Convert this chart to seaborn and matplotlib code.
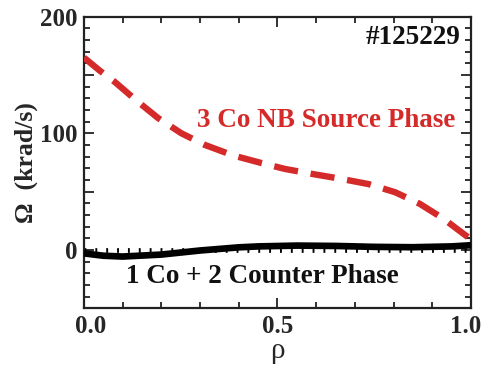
import numpy as np
import pandas as pd
import matplotlib
matplotlib.use('Agg')
import matplotlib.pyplot as plt
import matplotlib.transforms as mtransforms
import seaborn as sns
from matplotlib.ticker import MultipleLocator, FuncFormatter

# Data
rho_co = [0.0, 0.04, 0.08, 0.136, 0.192, 0.252, 0.313, 0.386, 0.459, 0.519, 0.593,
          0.664, 0.735, 0.804, 0.868, 0.928, 0.978, 1.0]
omega_co = [165, 154, 144, 128, 113, 100, 90, 81, 74.5, 69.5, 65,
            61, 56.5, 49.5, 39.5, 27, 14.5, 9]

rho_mix = [0.0, 0.05, 0.1, 0.2, 0.3, 0.4, 0.45, 0.55, 0.65, 0.75, 0.85, 0.95, 1.0]
omega_mix = [-3, -5, -5.7, -4, -0.5, 2.2, 3.0, 3.7, 3.4, 2.6, 2.3, 3.0, 4.0]

label_co = "3 Co NB Source Phase"
label_mix = "1 Co + 2 Counter Phase"
shot = "#125229"

df_co = pd.DataFrame({'rho': rho_co, 'omega': omega_co})
df_mix = pd.DataFrame({'rho': rho_mix, 'omega': omega_mix})

sns.set_theme(style="ticks")
plt.rcParams['font.family'] = ['Liberation Serif', 'DejaVu Serif']
plt.rcParams['font.weight'] = 'bold'

fig = plt.figure(figsize=(4.84, 3.66), dpi=100)
ax = fig.add_axes([0.1736, 0.158, 0.7994, 0.796])

red = '#d42a2a'
# zero reference drawn as a row of short ticks
ax.axhline(0, color='black', lw=3.4, ls=(0, (0.4, 1.9)), zorder=1)
sns.lineplot(data=df_mix, x='rho', y='omega', ax=ax, color='black', lw=4.8, zorder=3)
sns.lineplot(data=df_co, x='rho', y='omega', ax=ax, color=red, lw=4.6,
             dashes=False, zorder=3)
ax.lines[-1].set_dashes((3.8, 2.0))

ax.set_xlim(0, 1)
ax.set_ylim(-50, 200)
ax.set_xticks([0.0, 0.5, 1.0])
ax.xaxis.set_minor_locator(MultipleLocator(0.1))
ax.yaxis.set_major_locator(MultipleLocator(50))
ax.yaxis.set_minor_locator(MultipleLocator(10))
ax.xaxis.set_major_formatter(FuncFormatter(lambda v, p: f"{v:.1f}"))
ax.yaxis.set_major_formatter(FuncFormatter(lambda v, p: f"{v:.0f}" if round(v) % 100 == 0 else ""))

ax.tick_params(which='both', direction='in', top=True, right=True, width=1.3, color='#222222')
ax.tick_params(which='major', length=7, labelsize=18, pad=5)
ax.tick_params(which='minor', length=4)
for lab in ax.get_xticklabels() + ax.get_yticklabels():
    lab.set_fontweight('bold')

# nudge the first and last x labels like the original
fig.canvas.draw()
xticks = ax.xaxis.get_major_ticks()
xticks[0].label1.set_transform(xticks[0].label1.get_transform()
                               + mtransforms.ScaledTranslation(7 / 100, 0, fig.dpi_scale_trans))
xticks[-1].label1.set_transform(xticks[-1].label1.get_transform()
                                + mtransforms.ScaledTranslation(-5 / 100, 0, fig.dpi_scale_trans))

for s in ax.spines.values():
    s.set_linewidth(1.6)
    s.set_color('#222222')

ax.set_xlabel("ρ", fontsize=21, fontweight='normal', labelpad=0)
ax.set_ylabel("Ω  (krad/s)", fontsize=18.5, fontweight='bold', labelpad=1)

ax.text(0.627, 111, label_co, color=red, fontsize=19.5, fontweight='bold',
        ha='center', va='center')
ax.text(0.461, -23, label_mix, color='#111111', fontsize=19.5, fontweight='bold',
        ha='center', va='center')
ax.text(0.974, 182, shot, color='#111111', fontsize=19.5, fontweight='bold',
        ha='right', va='center')

fig.savefig('out.png', dpi=100)
